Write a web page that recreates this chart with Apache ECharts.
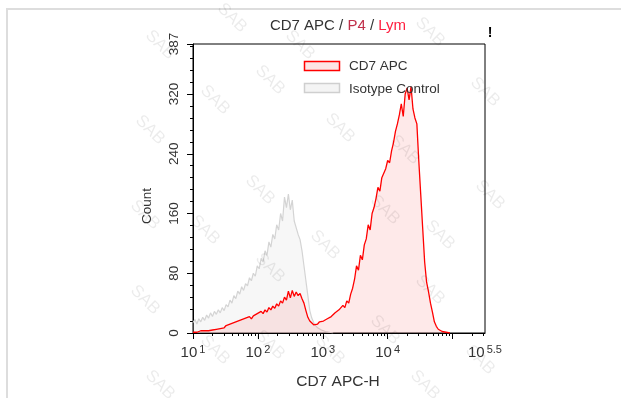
<!DOCTYPE html>
<html>
<head>
<meta charset="utf-8">
<script src="https://cdn.jsdelivr.net/npm/echarts@6/dist/echarts.min.js"></script>
<style>
html,body{margin:0;padding:0;background:#fff;}
#chart{width:621px;height:398px;}
</style>
</head>
<body>
<div id="chart"></div>
<script>
// Histogram bins on log10 scale of CD7 APC-H
const binStart = 1.0;
const binWidth = 0.03;
const xTickExponents = [1, 2, 3, 4, 5];
const xLabelExponents = [1, 2, 3, 4, 5.5];
const yLabelValues = [0, 80, 160, 240, 320, 387];
const seriesNames = ['CD7 APC', 'Isotype Control'];

const isotypeCounts = [14,18,12,19,15,21,17,24,20,27,22,29,25,31,27,34,30,38,35,44,
  40,50,46,56,52,62,57,66,63,74,70,80,76,90,86,100,95,110,104,122,
  115,132,126,145,138,160,150,182,168,186,165,178,150,148,132,125,110,90,70,50,
  30,20,14,10,7,5,4,3,2,2,1,1,0];

const cd7Counts = [1,2,1,2,3,2,3,4,3,5,4,6,5,7,6,8,7,10,9,12,
  11,14,12,16,15,18,16,20,18,22,19,23,21,26,24,29,26,31,28,34,
  31,36,33,39,36,43,40,48,44,56,47,57,49,55,50,53,46,40,30,21,
  16,14,11,13,12,15,13,16,15,19,17,22,20,27,25,31,29,37,34,43,
  40,52,60,72,90,84,104,98,118,126,145,138,160,168,180,195,190,208,214,220,
  231,228,244,255,270,280,292,307,290,320,328,312,330,300,288,280,230,185,140,95,
  68,55,40,28,15,9,5,4,2,2,1,1,0];

const toPairs = arr => arr.map((c, i) => [+(binStart + binWidth * i).toFixed(3), c]);

const minorX = [];
for (let n = 1; n <= 5; n++) {
  for (let k = 2; k <= 9; k++) {
    const v = Math.log10(k * Math.pow(10, n));
    if (v <= 5.5) minorX.push(v);
  }
}
const minorY = [];
for (let v = 0; v <= 387; v += 16) minorY.push(v);

const FONT = '"Liberation Sans", Arial, sans-serif';

const watermarkPos = [[232,18],[160,45],[300,45],[430,32],[270,80],[485,92],[215,100],[150,130],
  [340,128],[405,150],[490,195],[260,190],[205,230],[385,210],[145,215],[440,235],[325,245],
  [270,268],[145,300],[430,290],[385,330],[330,350],[270,345],[480,360],[215,350],[425,385],[160,385]];

const chart = echarts.init(document.getElementById('chart'), null, {renderer: 'canvas'});

const graphics = [
  {type:'rect', shape:{x:7,y:9,width:640,height:420}, style:{stroke:'#dddddd', lineWidth:2, fill:'none'}, z:0, silent:true},
  {type:'text', x:338, y:26, style:{text:'{a|CD7 APC / }{b|P4}{a| / }{c|Lym}', rich:{
      a:{fill:'#333', fontSize:15, fontFamily:FONT},
      b:{fill:'#c0304a', fontSize:15, fontFamily:FONT},
      c:{fill:'#ff2040', fontSize:15, fontFamily:FONT}}, align:'center', verticalAlign:'middle'}, z:10},
  {type:'text', x:490, y:33, style:{text:'!', fill:'#000', fontSize:14, fontWeight:'bold', fontFamily:FONT, align:'center', verticalAlign:'middle'}, z:10},
  {type:'text', x:147, y:206, rotation:Math.PI/2, style:{text:'Count', fill:'#333', fontSize:13.5, fontFamily:FONT, align:'center', verticalAlign:'middle'}, z:10},
  {type:'text', x:338, y:382, style:{text:'CD7 APC-H', fill:'#333', fontSize:15.5, fontFamily:FONT, align:'center', verticalAlign:'middle'}, z:10},
  {type:'rect', shape:{x:304.5,y:61.5,width:35,height:9}, style:{stroke:'#ff0000', lineWidth:1.5, fill:'#fde4e4'}, z:20},
  {type:'text', x:349, y:66, style:{text:seriesNames[0], fill:'#333', fontSize:13.5, fontFamily:FONT, verticalAlign:'middle'}, z:20},
  {type:'rect', shape:{x:304.5,y:83.5,width:35,height:9}, style:{stroke:'#cfcfcf', lineWidth:1.5, fill:'#f4f4f4'}, z:20},
  {type:'text', x:349, y:89, style:{text:seriesNames[1], fill:'#333', fontSize:13.5, fontFamily:FONT, verticalAlign:'middle'}, z:20}
];
watermarkPos.forEach(p => graphics.push({type:'text', x:p[0], y:p[1], rotation:-Math.PI/4,
  style:{text:'SAB', fill:'rgba(0,0,0,0.08)', fontSize:17, fontFamily:FONT, align:'center', verticalAlign:'middle'}, z:30, silent:true}));

chart.setOption({
  animation:false,
  backgroundColor:'#ffffff',
  grid:{left:193, top:44, width:292, height:289, show:true, borderColor:'#000', borderWidth:1, backgroundColor:'transparent'},
  xAxis:[{
    type:'value', min:1, max:5.5, position:'bottom',
    axisLine:{show:true, onZero:false, lineStyle:{color:'#000', width:1}},
    axisTick:{show:true, customValues:xTickExponents, length:6, lineStyle:{color:'#000'}},
    axisLabel:{show:true, customValues:xLabelExponents, margin:6,
      formatter: v => '{b|10}{s|' + (Math.abs(v - 5.5) < 1e-6 ? '5.5' : Math.round(v)) + '}',
      rich:{b:{fontSize:15, color:'#333', fontFamily:FONT, padding:[6,2,0,0]}, s:{fontSize:11, color:'#333', fontFamily:FONT, padding:[0,0,0,0]}}},
    splitLine:{show:false}
  },{
    type:'value', min:1, max:5.5, position:'bottom',
    axisLine:{show:false, onZero:false},
    axisTick:{show:true, customValues:minorX, length:3, lineStyle:{color:'#000'}},
    axisLabel:{show:false}, splitLine:{show:false}
  }],
  yAxis:[{
    type:'value', min:0, max:387, position:'left',
    axisLine:{show:true, lineStyle:{color:'#000', width:1}},
    axisTick:{show:true, customValues:yLabelValues, length:6, lineStyle:{color:'#000'}},
    axisLabel:{show:true, customValues:yLabelValues, rotate:90, margin:12, color:'#333', fontSize:13.5, fontFamily:FONT},
    splitLine:{show:false}
  },{
    type:'value', min:0, max:387, position:'left',
    axisLine:{show:false},
    axisTick:{show:true, customValues:minorY, length:3, lineStyle:{color:'#000'}},
    axisLabel:{show:false}, splitLine:{show:false}
  }],
  graphic:graphics,
  series:[{
    name:seriesNames[1], type:'line', xAxisIndex:0, yAxisIndex:0, showSymbol:false, symbol:'none',
    data:toPairs(isotypeCounts), lineStyle:{color:'#d4d4d4', width:1.2},
    areaStyle:{color:'rgba(225,225,225,0.4)'}, z:2
  },{
    name:seriesNames[0], type:'line', xAxisIndex:0, yAxisIndex:0, showSymbol:false, symbol:'none',
    data:toPairs(cd7Counts), lineStyle:{color:'#ff0000', width:1.3},
    areaStyle:{color:'rgba(248,100,100,0.2)'}, z:3
  }]
});
</script>
</body>
</html>
